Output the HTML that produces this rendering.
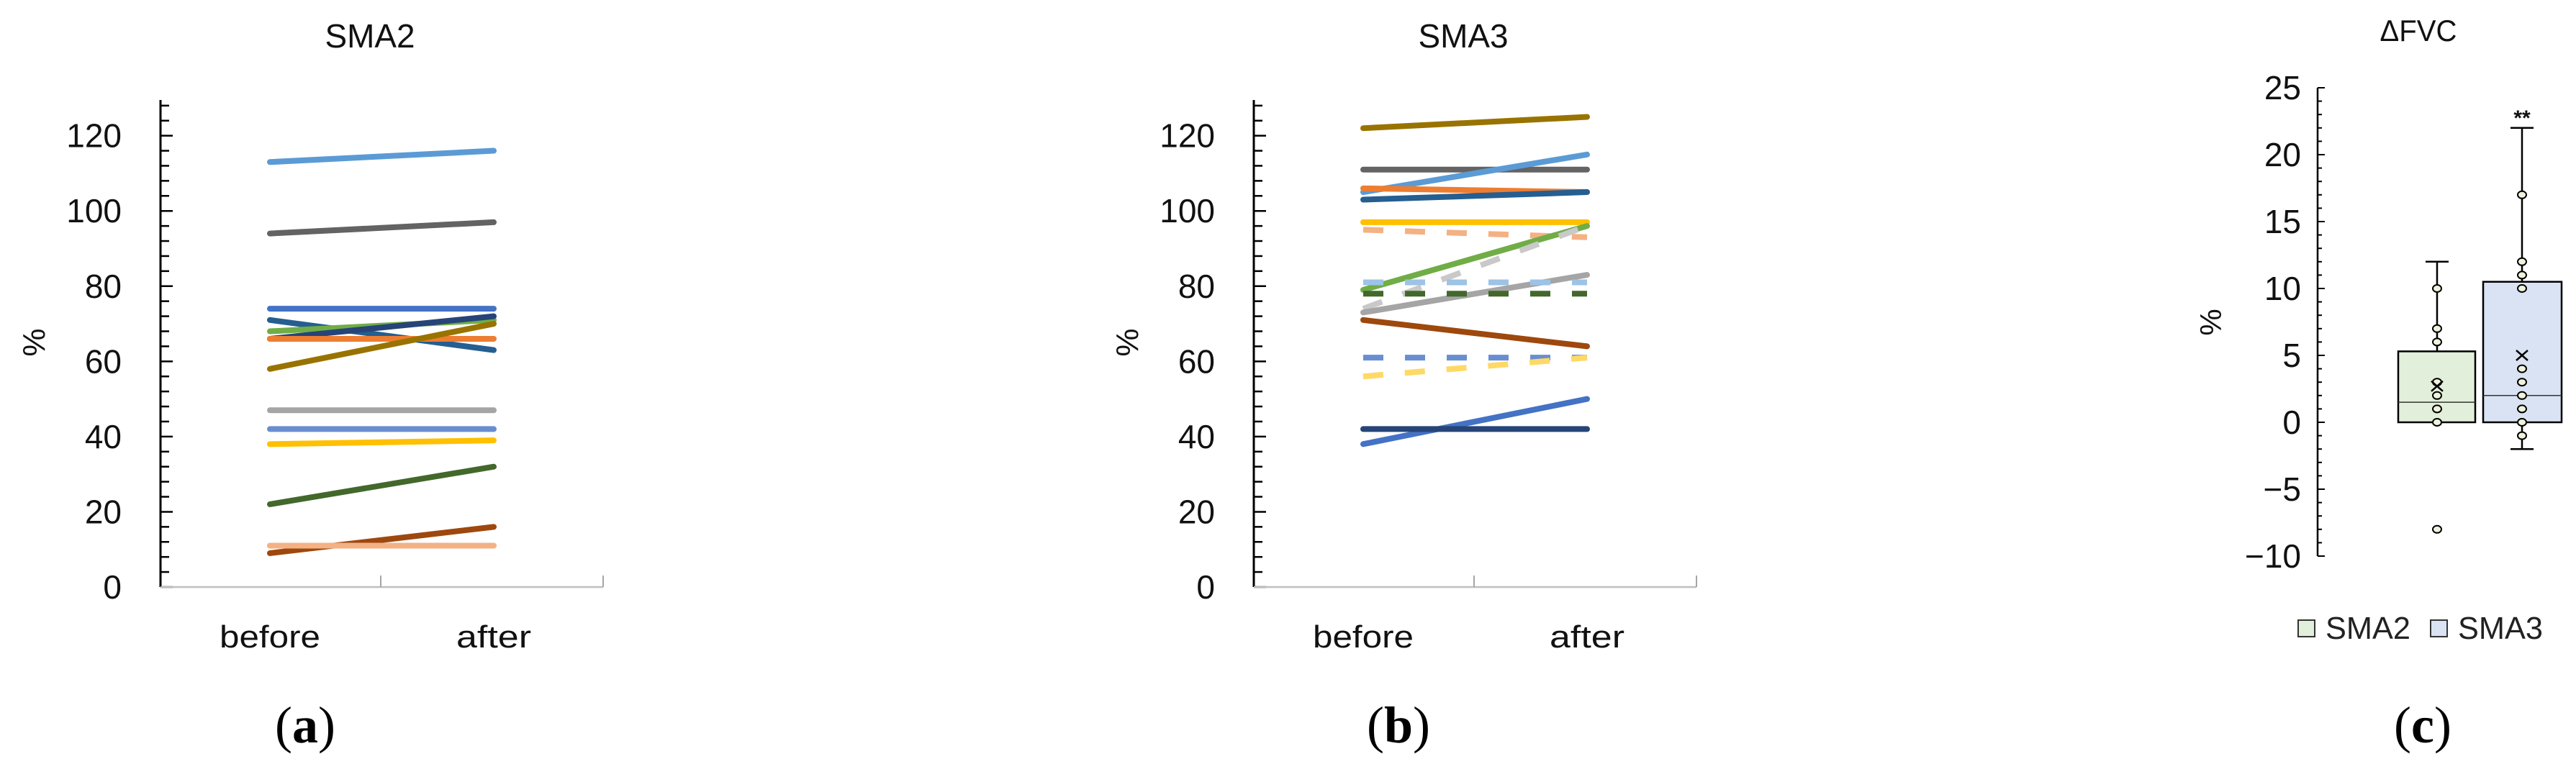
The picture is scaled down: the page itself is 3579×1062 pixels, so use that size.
<!DOCTYPE html>
<html><head><meta charset="utf-8"><style>
html,body{margin:0;padding:0;background:#fff;}
svg{display:block;font-family:"Liberation Sans",sans-serif;}
</style></head><body>
<svg id="fig" width="3579" height="1062" viewBox="0 0 3579 1062" xmlns="http://www.w3.org/2000/svg">
<g id="pa"></g>
<g id="pb"></g>
<g id="pc"></g>
</svg>
<script>
// ---- Panel A data (SMA2) ----
const aBefore = [113, 94, 74, 71, 68, 66, 66, 58, 47, 42, 38, 22, 9, 11];
const aAfter  = [116, 97, 74, 63, 71, 72, 66, 70, 47, 42, 39, 32, 16, 11];
const aColors = ["#5B9BD5","#636363","#4472C4","#255E91","#70AD47","#264478","#ED7D31","#997300","#A5A5A5","#698ED0","#FFC000","#43682B","#9E480E","#F4B183"];
const aDashed = [0,0,0,0,0,0,0,0,0,0,0,0,0,0];
// ---- Panel B data (SMA3) ----
const bBefore = [122, 111, 105, 106, 103, 97, 95, 79, 74, 73, 81, 78, 71, 61, 56, 38, 42];
const bAfter  = [125, 111, 115, 105, 105, 97, 93, 96, 96, 83, 81, 78, 64, 61, 61, 50, 42];
const bColors = ["#997300","#636363","#5B9BD5","#ED7D31","#255E91","#FFC000","#F4B183","#70AD47","#C9C9C9","#A5A5A5","#9DC3E6","#43682B","#9E480E","#698ED0","#FFD966","#4472C4","#264478"];
const bDashed = [0,0,0,0,0,0,1,0,1,0,1,1,0,1,1,0,0];
const timeCats = ["before","after"];
const yTicksAB = [0,20,40,60,80,100,120];
// ---- Panel C data ----
const cGroups = ["SMA2","SMA3"];
const cQ1 = [0, 0];
const cMedian = [1.5, 2];
const cQ3 = [5.3, 10.5];
const cWhiskerLow = [0, -2];
const cWhiskerHigh = [12, 22];
const cMean = [2.7, 5];
const cPoints2 = [10, 7, 6, 3, 2, 1, 0, -8];
const cPoints3 = [17, 12, 11, 10, 4, 3, 2, 1, 0, -1];
const yTicksC = [-10,-5,0,5,10,15,20,25];

const NS = "http://www.w3.org/2000/svg";
function mk(parent, tag, attrs, text){
  const e = document.createElementNS(NS, tag);
  for (const k in attrs) e.setAttribute(k, attrs[k]);
  if (attrs.textLength) e.setAttribute("lengthAdjust", "spacingAndGlyphs");
  if (text !== undefined) e.textContent = text;
  parent.appendChild(e);
  return e;
}

function linePanel(g, ox, before, after, colors, dashed, title, letter){
  const axX = ox + 223, y0 = 816, pxPerUnit = 5.228;
  const yS = v => y0 - v * pxPerUnit;
  const xS = i => ox + (i === 0 ? 375 : 686);
  const endX = ox + 838;
  let t = mk(g, "text", {x: ox + 514, y: 66, "font-size": 46, "text-anchor": "middle", textLength: 125, fill: "#111"}, title);
  
  
  let ya = mk(g, "line", {x1: axX, y1: 139, x2: axX, y2: y0, stroke: "#000", "stroke-width": 3});
  
  
  for (let v = 0; v <= 128; v += 4) {
    const major = v % 20 === 0;
    const tk = mk(g, "line", {x1: axX, y1: yS(v), x2: axX + (major ? 17 : 12), y2: yS(v), stroke: "#000", "stroke-width": 2.5});
    
    
  }
  yTicksAB.forEach(v => {
    const l = mk(g, "text", {x: ox + 169, y: yS(v) + 16, "font-size": 46, "text-anchor": "end", fill: "#111"}, String(v));
    
    
  });
  const yt = mk(g, "text", {x: 0, y: 0, "font-size": 44, "text-anchor": "middle", fill: "#111", transform: `translate(${ox + 62},${476}) rotate(-90)`}, "%");
  
  
  const xa = mk(g, "line", {x1: axX, y1: y0, x2: endX, y2: y0, stroke: "#BFBFBF", "stroke-width": 2.5});
  
  
  [ox + 529, endX].forEach(x => {
    const tk = mk(g, "line", {x1: x, y1: y0 - 16, x2: x, y2: y0, stroke: "#A6A6A6", "stroke-width": 2});
    
    
  });
  timeCats.forEach((c, i) => {
    const l = mk(g, "text", {x: xS(i), y: 900, "font-size": 44, "text-anchor": "middle", fill: "#111", textLength: i === 0 ? 140 : 104}, c);
    
    
  });
  before.forEach((b, i) => {
    const attrs = {x1: xS(0), y1: yS(b), x2: xS(1), y2: yS(after[i]), stroke: colors[i], "stroke-width": 8, "stroke-linecap": "round"};
    if (dashed[i]) { attrs["stroke-dasharray"] = "28 30"; attrs["stroke-linecap"] = "butt"; }
    const ln = mk(g, "line", attrs);
    
    
  });
  const pl = mk(g, "text", {x: ox + 424, y: 1032, "font-size": 72, "text-anchor": "middle", "font-family": "Liberation Serif, serif", fill: "#000"});
  mk(pl, "tspan", {}, "(");
  mk(pl, "tspan", {"font-weight": "bold"}, letter);
  mk(pl, "tspan", {}, ")");
  
  
}

linePanel(document.getElementById("pa"), 0, aBefore, aAfter, aColors, aDashed, "SMA2", "a");
linePanel(document.getElementById("pb"), 1519, bBefore, bAfter, bColors, bDashed, "SMA3", "b");

(function(){
  const g = document.getElementById("pc");
  const axX = 3220, y0 = 587, ppu = 18.6;
  const yS = v => y0 - v * ppu;
  const cx = [3386, 3504];
  const bx = [[3332, 3439], [3450, 3559]];
  const fills = ["#E2EFDA", "#DAE3F3"];
  const t = mk(g, "text", {x: 3360, y: 57, "font-size": 42, "text-anchor": "middle", textLength: 107, fill: "#111"}, "ΔFVC");
  
  
  const ya = mk(g, "line", {x1: axX, y1: yS(25), x2: axX, y2: yS(-10), stroke: "#000", "stroke-width": 2.5});
  
  
  for (let v = -10; v <= 25; v++) {
    const major = v % 5 === 0;
    const tk = mk(g, "line", {x1: axX, y1: yS(v), x2: axX + (major ? 10 : 6), y2: yS(v), stroke: "#000", "stroke-width": 2});
    
    
  }
  yTicksC.forEach(v => {
    const l = mk(g, "text", {x: 3197, y: yS(v) + 16, "font-size": 46, "text-anchor": "end", fill: "#111"}, v < 0 ? "−" + Math.abs(v) : String(v));
    
    
  });
  const yt = mk(g, "text", {x: 0, y: 0, "font-size": 42, "text-anchor": "middle", fill: "#111", transform: `translate(3086,448) rotate(-90)`}, "%");
  
  
  const pts = [cPoints2, cPoints3];
  cGroups.forEach((grp, i) => {
    const wl = mk(g, "line", {x1: cx[i], y1: yS(cWhiskerHigh[i]), x2: cx[i], y2: yS(cWhiskerLow[i]), stroke: "#000", "stroke-width": 2.5});
    
    
    [cWhiskerHigh[i], cWhiskerLow[i]].forEach(v => {
      if (v === cQ1[i]) return;
      const cap = mk(g, "line", {x1: cx[i] - 16, y1: yS(v), x2: cx[i] + 16, y2: yS(v), stroke: "#000", "stroke-width": 2.5});
      
      
    });
    const box = mk(g, "rect", {x: bx[i][0], y: yS(cQ3[i]), width: bx[i][1] - bx[i][0], height: yS(cQ1[i]) - yS(cQ3[i]), fill: fills[i], stroke: "#000", "stroke-width": 2.5});
    
    
    const md = mk(g, "line", {x1: bx[i][0], y1: yS(cMedian[i]), x2: bx[i][1], y2: yS(cMedian[i]), stroke: "#333", "stroke-width": 1.5});
    
    
    pts[i].forEach(v => {
      const c = mk(g, "ellipse", {cx: cx[i], cy: yS(v), rx: 6, ry: 5, fill: "#EEF3DC", stroke: "#000", "stroke-width": 2});
      
      
    });
    const m = mk(g, "path", {d: `M${cx[i]-8},${yS(cMean[i])-7}L${cx[i]+8},${yS(cMean[i])+7}M${cx[i]+8},${yS(cMean[i])-7}L${cx[i]-8},${yS(cMean[i])+7}`, stroke: "#000", "stroke-width": 2.5, fill: "none"});
    
    
    const lx = [3193, 3377][i];
    const sw = mk(g, "rect", {x: lx, y: 862, width: 23, height: 23, fill: fills[i], stroke: "#333", "stroke-width": 2});
    
    
    const lt = mk(g, "text", {x: lx + 38, y: 888, "font-size": 44, textLength: 118, fill: "#222"}, grp);
    
    
  });
  const sig = mk(g, "text", {x: cx[1], y: yS(cWhiskerHigh[1]) - 4, "font-size": 30, "font-weight": "bold", "text-anchor": "middle", fill: "#111"}, "**");
  
  
  const pl = mk(g, "text", {x: 3366, y: 1032, "font-size": 72, "text-anchor": "middle", "font-family": "Liberation Serif, serif", fill: "#000"});
  mk(pl, "tspan", {}, "(");
  mk(pl, "tspan", {"font-weight": "bold"}, "c");
  mk(pl, "tspan", {}, ")");
  
  
})();
</script>
</body></html>
